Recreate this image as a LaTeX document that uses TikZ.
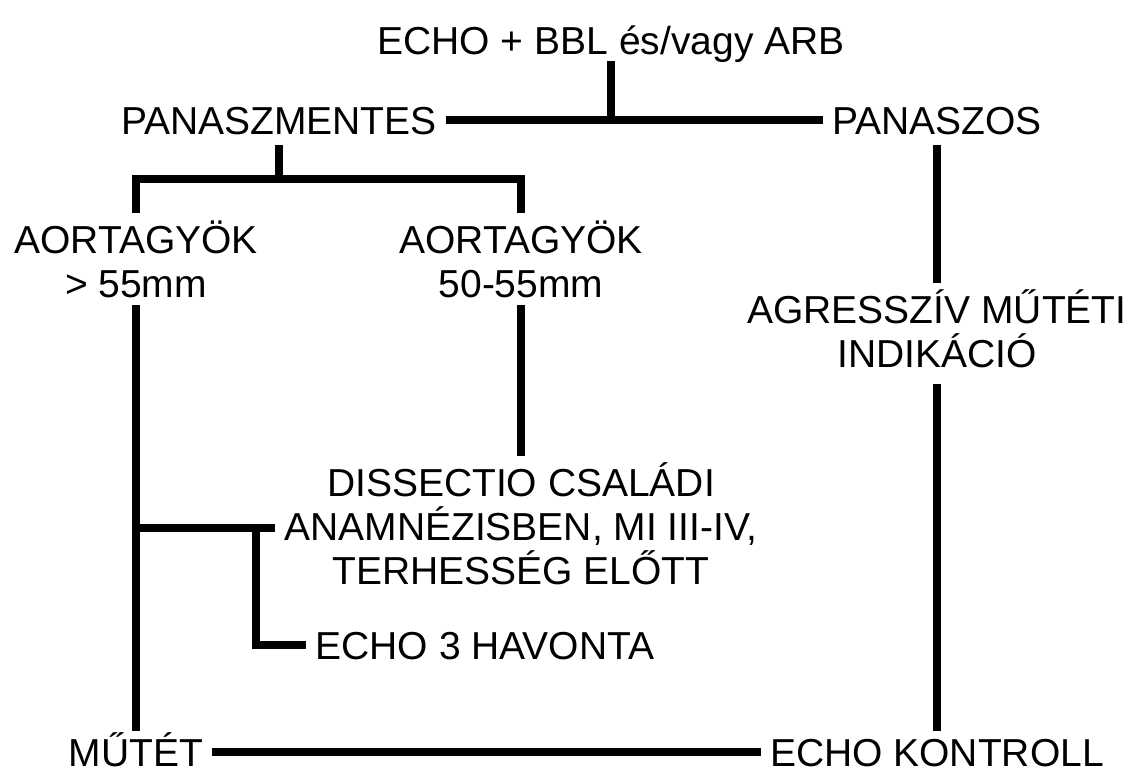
\documentclass[tikz,border=0pt]{standalone}
\usepackage{fontspec}
\setmainfont{Liberation Sans}

\begin{document}
\begin{tikzpicture}[x=0.02cm, y=-0.02cm, line cap=butt, line join=miter,
    lbl/.style={font=\fontsize{22.2}{25}\selectfont, inner xsep=5pt, inner ysep=4pt},
    one/.style={lbl, text height=16pt, text depth=0pt},
    two/.style={lbl, align=center},
    ln/.style={line width=5pt}]
    \useasboundingbox (0,0) rectangle (1128,771);

    \node[one] (start) at (611,40) {ECHO + BBL és/vagy ARB};
    \node[one] (pm) at (279,120) {PANASZMENTES};
    \node[one] (pz) at (937,120) {PANASZOS};
    \node[two] (a1) at (136,259) {AORTAGYÖK\\> 55mm};
    \node[two] (a2) at (521,259) {AORTAGYÖK\\50-55mm};
    \node[two] (agr) at (937,329) {AGRESSZÍV MŰTÉTI\\INDIKÁCIÓ};
    \node[two] (diss) at (521,524) {DISSECTIO CSALÁDI\\ANAMNÉZISBEN, MI III-IV,\\TERHESSÉG ELŐTT};
    \node[one] (e3) at (485,645) {ECHO 3 HAVONTA};
    \node[one, inner ysep=0pt] (mu) at (136,752) {MŰTÉT};
    \node[one, inner ysep=0pt] (ek) at (937,752) {ECHO KONTROLL};

    \coordinate (fork) at (279,179);
    \coordinate (br) at (136,528);
    \coordinate (knee) at (256,528);

    \draw[ln] (pm.east) -- (pz.west);
    \draw[ln] (start.south) -- (start.south |- pm.east);
    \draw[ln, shorten <=2pt] (pm.south) -- (fork);
    \draw[ln] (a1.north) -- (a1.north |- fork) -- (a2.north |- fork) -- (a2.north);
    \draw[ln, shorten >=4pt] (a1.south) -- (mu.north);
    \draw[ln] (a2.south) -- (diss.north);
    \draw[ln] (br) -- (br -| diss.west);
    \draw[ln] (knee) |- (e3.west);
    \draw[ln, shorten <=2pt] (pz.south) -- (agr.north);
    \draw[ln, shorten <=5pt, shorten >=4pt] (agr.south) -- (ek.north);
    \draw[ln] (mu.east) -- (ek.west);
\end{tikzpicture}
\end{document}
